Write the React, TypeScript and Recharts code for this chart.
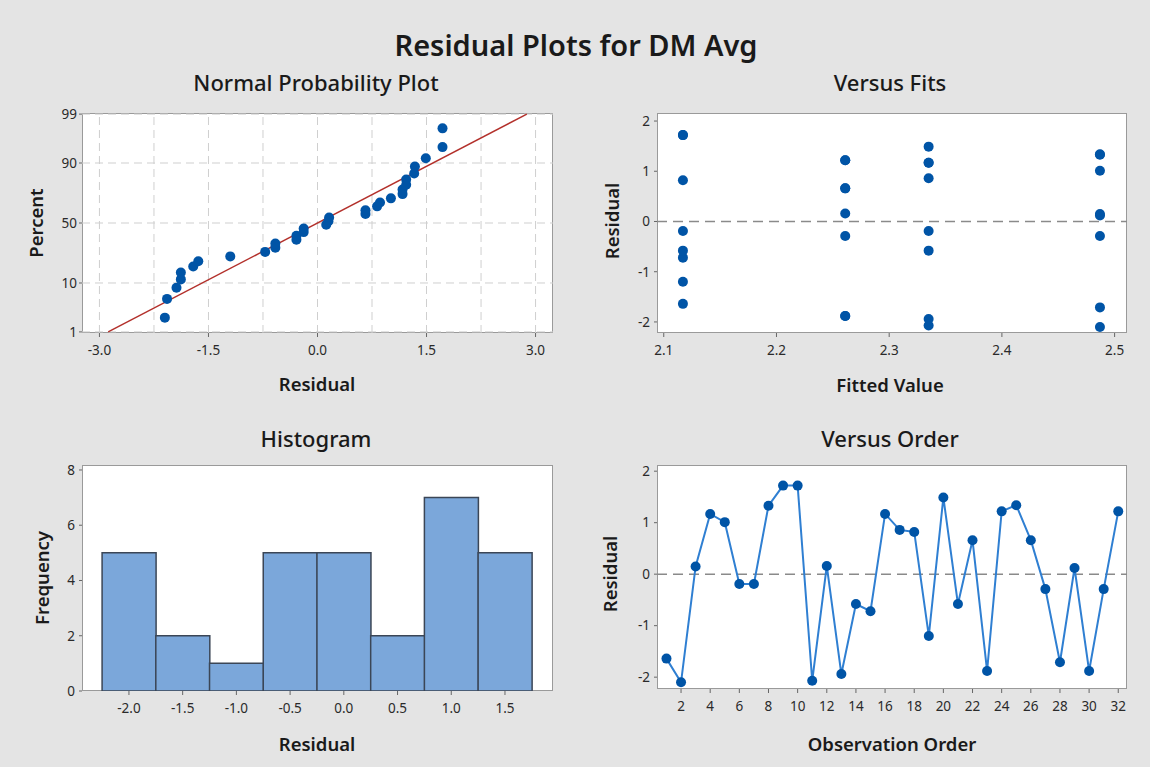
import React from 'react'
import {
  ScatterChart, Scatter, BarChart, Bar, LineChart, Line,
  XAxis, YAxis, ReferenceLine,
} from 'recharts'

const FONT = '"Noto Sans", "Open Sans", sans-serif'
const DOT = '#0054a6'

// residuals in observation order 1..32
const observation = [1, 2, 3, 4, 5, 6, 7, 8, 9, 10, 11, 12, 13, 14, 15, 16,
  17, 18, 19, 20, 21, 22, 23, 24, 25, 26, 27, 28, 29, 30, 31, 32]
const residuals = [-1.64, -2.10, 0.15, 1.17, 1.01, -0.19, -0.19, 1.33, 1.72, 1.72, -2.07, 0.16,
  -1.94, -0.58, -0.72, 1.17, 0.86, 0.82, -1.20, 1.49, -0.58, 0.66, -1.88, 1.22,
  1.34, 0.66, -0.29, -1.71, 0.12, -1.88, -0.29, 1.22]
const fitted = [2.117, 2.487, 2.487, 2.335, 2.487, 2.117, 2.335, 2.487, 2.117, 2.117, 2.335, 2.261,
  2.335, 2.335, 2.117, 2.335, 2.335, 2.117, 2.117, 2.335, 2.117, 2.261, 2.261, 2.261,
  2.487, 2.261, 2.261, 2.487, 2.487, 2.261, 2.487, 2.261]

// plotting positions (percent) of the sorted residuals
const probPercent = [2.16, 5.25, 8.33, 11.42, 14.51, 17.59, 20.68, 23.77, 26.85, 29.94, 33.02,
  36.11, 39.20, 42.28, 45.37, 48.46, 51.54, 54.63, 57.72, 60.80, 63.89, 66.98, 70.06,
  73.15, 76.23, 79.32, 82.41, 85.49, 88.58, 91.67, 94.75, 97.84]
const probTicks = [1, 10, 50, 90, 99]
const probXTicks = [-3.0, -1.5, 0.0, 1.5, 3.0]
const probGridX = [-3.0, -2.25, -1.5, -0.75, 0.0, 0.75, 1.5, 2.25, 3.0]
const fitLine = [{ x: -2.88, pct: 1 }, { x: 2.88, pct: 99 }]

const fitTicks = [2.1, 2.2, 2.3, 2.4, 2.5]
const residTicks = [-2, -1, 0, 1, 2]

const histMids = [-2.0, -1.5, -1.0, -0.5, 0.0, 0.5, 1.0, 1.5]
const histCounts = [5, 2, 1, 5, 5, 2, 7, 5]
const histTicks = [0, 2, 4, 6, 8]

const orderTicks = [2, 4, 6, 8, 10, 12, 14, 16, 18, 20, 22, 24, 26, 28, 30, 32]

// inverse normal cdf (Acklam) for the probability scale
function normInv(p: number): number {
  const a = [-39.69683028665376, 220.9460984245205, -275.9285104469687, 138.357751867269, -30.66479806614716, 2.506628277459239]
  const b = [-54.47609879822406, 161.5858368580409, -155.6989798598866, 66.80131188771972, -13.28068155288572]
  const c = [-0.007784894002430293, -0.3223964580411365, -2.400758277161838, -2.549732539343734, 4.374664141464968, 2.938163982698783]
  const d = [0.007784695709041462, 0.3224671290700398, 2.445134137142996, 3.754408661907416]
  const pl = 0.02425
  if (p < pl) {
    const q = Math.sqrt(-2 * Math.log(p))
    return (((((c[0] * q + c[1]) * q + c[2]) * q + c[3]) * q + c[4]) * q + c[5]) / ((((d[0] * q + d[1]) * q + d[2]) * q + d[3]) * q + 1)
  }
  if (p > 1 - pl) {
    const q = Math.sqrt(-2 * Math.log(1 - p))
    return -(((((c[0] * q + c[1]) * q + c[2]) * q + c[3]) * q + c[4]) * q + c[5]) / ((((d[0] * q + d[1]) * q + d[2]) * q + d[3]) * q + 1)
  }
  const q = p - 0.5
  const r = q * q
  return (((((a[0] * r + a[1]) * r + a[2]) * r + a[3]) * r + a[4]) * r + a[5]) * q / (((((b[0] * r + b[1]) * r + b[2]) * r + b[3]) * r + b[4]) * r + 1)
}
const z = (pct: number) => normInv(pct / 100)

const sortedResiduals = [...residuals].sort((a, b) => a - b)
const probData = sortedResiduals.map((r, i) => ({ x: r, y: z(probPercent[i]) }))
const fitsData = residuals.map((r, i) => ({ x: fitted[i], y: r }))
const histData = histMids.map((m, i) => ({ mid: m, count: histCounts[i] }))
const orderData = observation.map((o, i) => ({ obs: o, resid: residuals[i] }))

// plot rectangles (page px)
const P1 = { x: 82, y: 113, w: 471, h: 220 }
const P2 = { x: 657, y: 113, w: 470, h: 220 }
const P3 = { x: 82, y: 465, w: 471, h: 226 }
const P4 = { x: 657, y: 465, w: 470, h: 224 }

const YW = 50
const tick = { fontSize: 13.5, fill: '#2a2a2a', fontFamily: FONT }

const dotShape = (p: any) => <circle cx={p.cx} cy={p.cy} r={5} fill={DOT} />

function Frame({ r, children }: { r: typeof P1; children: React.ReactNode }) {
  return (
    <>
      <div style={{
        position: 'absolute', left: r.x, top: r.y, width: r.w, height: r.h,
        background: '#fff', boxSizing: 'border-box', border: '1.5px solid #9a9a9a',
      }} />
      <div style={{ position: 'absolute', left: r.x - YW, top: r.y - 10 }}>{children}</div>
    </>
  )
}

function Text({ x, y, size, weight = 400, rotate = false, children }:
  { x: number; y: number; size: number; weight?: number; rotate?: boolean; children: React.ReactNode }) {
  return (
    <div style={{
      position: 'absolute', left: x, top: y, whiteSpace: 'nowrap',
      transform: `translate(-50%, -50%)${rotate ? ' rotate(-90deg)' : ''}`,
      fontSize: size, fontWeight: weight, color: '#1a1a1a', fontFamily: FONT,
    }}>{children}</div>
  )
}

const margin = { top: 10, right: 10, left: 0, bottom: 0 }
const cw = (r: typeof P1) => r.w + YW + 10
const ch = (r: typeof P1) => r.h + 40

export default function App() {
  return (
    <div style={{
      position: 'absolute', left: 0, top: 0, width: 1150, height: 767,
      background: '#e4e4e4', fontFamily: FONT, overflow: 'hidden',
    }}>
      <Text x={576} y={44} size={29} weight={600}>Residual Plots for DM Avg</Text>
      <Text x={316} y={82} size={22} weight={500}>Normal Probability Plot</Text>
      <Text x={890} y={82} size={22} weight={500}>Versus Fits</Text>
      <Text x={316} y={438} size={22} weight={500}>Histogram</Text>
      <Text x={890} y={438} size={22} weight={500}>Versus Order</Text>

      <Text x={317} y={383} size={18.5} weight={600}>Residual</Text>
      <Text x={35} y={223} size={18.5} weight={600} rotate>Percent</Text>
      <Text x={890} y={384} size={18.5} weight={600}>Fitted Value</Text>
      <Text x={611} y={221} size={18.5} weight={600} rotate>Residual</Text>
      <Text x={317} y={743} size={18.5} weight={600}>Residual</Text>
      <Text x={41} y={578} size={18.5} weight={600} rotate>Frequency</Text>
      <Text x={892} y={743} size={18.5} weight={600}>Observation Order</Text>
      <Text x={609} y={574} size={18.5} weight={600} rotate>Residual</Text>

      {/* Normal probability plot */}
      <Frame r={P1}>
        <ScatterChart width={cw(P1)} height={ch(P1)} margin={margin}>
          <XAxis type="number" dataKey="x" domain={[-3.24, 3.24]} ticks={probXTicks} allowDataOverflow
            tickFormatter={(v: number) => v.toFixed(1)} tick={tick} axisLine={false} tickSize={4} tickMargin={8} height={30} />
          <YAxis type="number" dataKey="y" domain={[-2.35, 2.35]} ticks={probTicks.map(z)} allowDataOverflow
            tickFormatter={(v: number) => String(probTicks[probTicks.map(z).findIndex((t) => Math.abs(t - v) < 1e-6)])}
            tick={tick} axisLine={false} tickSize={3} tickMargin={2} width={YW} />
          {probGridX.map((g) => (
            <ReferenceLine key={'gx' + g} x={g} stroke="#cfcfcf" strokeDasharray="8 5" />
          ))}
          {probTicks.map((p) => (
            <ReferenceLine key={'gy' + p} y={z(p)} stroke="#cfcfcf" strokeDasharray="8 5" />
          ))}
          <ReferenceLine
            segment={[{ x: fitLine[0].x, y: z(fitLine[0].pct) }, { x: fitLine[1].x, y: z(fitLine[1].pct) }]}
            stroke="#b3302b" strokeWidth={1.5} />
          <Scatter data={probData} shape={dotShape} isAnimationActive={false} />
        </ScatterChart>
      </Frame>

      {/* Versus fits */}
      <Frame r={P2}>
        <ScatterChart width={cw(P2)} height={ch(P2)} margin={margin}>
          <XAxis type="number" dataKey="x" domain={[2.094, 2.511]} ticks={fitTicks} allowDataOverflow
            tickFormatter={(v: number) => v.toFixed(1)} tick={tick} axisLine={false} tickSize={4} tickMargin={8} height={30} />
          <YAxis type="number" dataKey="y" domain={[-2.22, 2.16]} ticks={residTicks} allowDataOverflow
            tick={tick} axisLine={false} tickSize={3} tickMargin={4} width={YW} />
          <ReferenceLine y={0} stroke="#8a8a8a" strokeWidth={1.5} strokeDasharray="10 6" />
          <Scatter data={fitsData} shape={dotShape} isAnimationActive={false} />
        </ScatterChart>
      </Frame>

      {/* Histogram */}
      <Frame r={P3}>
        <BarChart width={cw(P3)} height={ch(P3)} margin={margin} data={histData} barCategoryGap={0} barGap={0}>
          <XAxis type="number" dataKey="mid" domain={[-2.437, 1.947]} ticks={histMids} allowDataOverflow
            tickFormatter={(v: number) => v.toFixed(1)} tick={tick} axisLine={false} tickSize={4} tickMargin={8} height={30} />
          <YAxis type="number" domain={[0, 8.18]} ticks={histTicks} allowDataOverflow
            tick={tick} axisLine={false} tickSize={3} tickMargin={4} width={YW} />
          <Bar dataKey="count" fill="#7ba7da" stroke="#3b4656" strokeWidth={1.5} isAnimationActive={false} />
        </BarChart>
      </Frame>

      {/* Versus order */}
      <Frame r={P4}>
        <LineChart width={cw(P4)} height={ch(P4)} margin={margin} data={orderData}>
          <XAxis type="number" dataKey="obs" domain={[0.35, 32.6]} ticks={orderTicks} allowDataOverflow
            tick={tick} axisLine={false} tickSize={4} tickMargin={8} height={30} />
          <YAxis type="number" domain={[-2.23, 2.12]} ticks={residTicks} allowDataOverflow
            tick={tick} axisLine={false} tickSize={3} tickMargin={4} width={YW} />
          <ReferenceLine y={0} stroke="#8a8a8a" strokeWidth={1.5} strokeDasharray="10 6" />
          <Line dataKey="resid" stroke="#2f7fd2" strokeWidth={2}
            dot={{ r: 5, fill: DOT, stroke: DOT, strokeWidth: 0 }} isAnimationActive={false} />
        </LineChart>
      </Frame>
    </div>
  )
}
